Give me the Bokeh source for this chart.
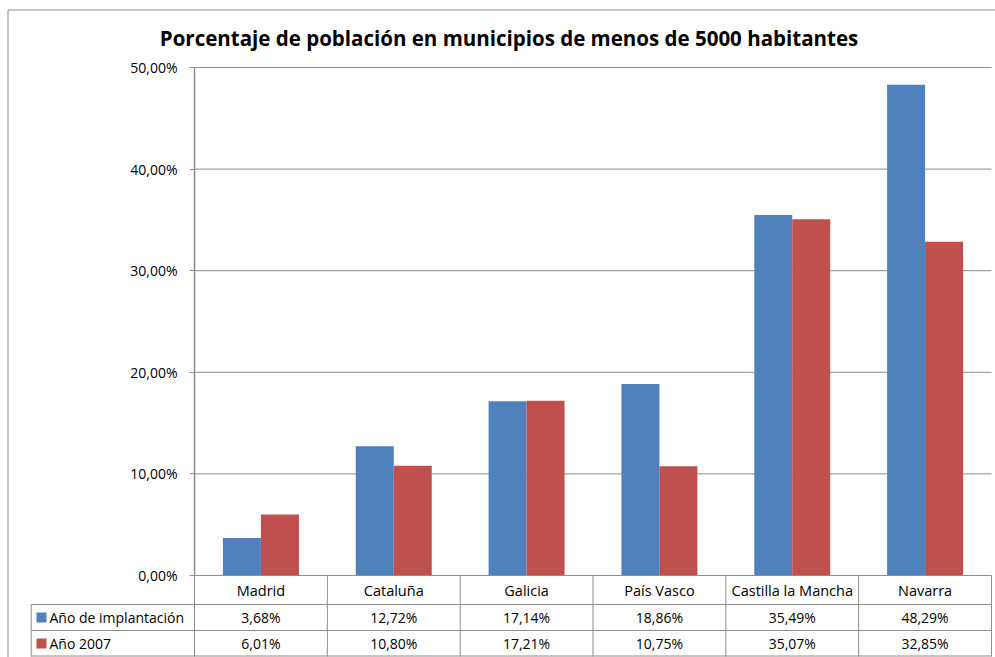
from bokeh.plotting import figure
from bokeh.models import (ColumnDataSource, LinearAxis, FixedTicker,
                          CustomJSTickFormatter, Range1d, Label)
from bokeh.core.properties import value
from bokeh.embed import file_html
from bokeh.resources import INLINE

# ---------------- data ----------------
title_text = "Porcentaje de población en municipios de menos de 5000 habitantes"
categories = ["Madrid", "Cataluña", "Galicia", "País Vasco",
              "Castilla la Mancha", "Navarra"]
serie_implantacion = [3.68, 12.72, 17.14, 18.86, 35.49, 48.29]
serie_2007 = [6.01, 10.80, 17.21, 10.75, 35.07, 32.85]
series_names = ["Año de implantación", "Año 2007"]
series_colors = ["#4F81BD", "#C0504D"]
y_ticks = [0, 10, 20, 30, 40, 50]

# ---------------- layout (page pixels) ----------------
W, H = 995, 657
OX, OY = 0, 0
PLOT_L, PLOT_R = 194, 991
Y0_PX, YTOP_PX = 575, 67
ROW1_B, ROW2_B, ROW3_B = 604, 630, 656
LEG_L = 30.7
FONT = "Open Sans"
FS = "14px"
GRAY = "#8c8c8c"

ncat = len(categories)
cat_px = (PLOT_R - PLOT_L) / ncat
ppu = (Y0_PX - YTOP_PX) / y_ticks[-1]


def dx(px):
    return (px - PLOT_L) / cat_px


def dy(py):
    return (Y0_PX - py) / ppu


def fmt(v):
    return f"{v:.2f}".replace(".", ",") + "%"


p = figure(width=W, height=H,
           x_range=Range1d(dx(OX), dx(OX + W)),
           y_range=Range1d(dy(OY + H), dy(OY)),
           output_backend="svg", toolbar_location=None,
           x_axis_type=None, y_axis_type=None, min_border=0)
p.outline_line_color = None
p.background_fill_color = "white"
p.border_fill_color = "white"

# outer chart border (left + top)
p.segment(x0=[dx(7.5), dx(7.5)], x1=[dx(7.5), dx(OX + W)],
          y0=[dy(OY + H), dy(9.5)], y1=[dy(9.5), dy(9.5)],
          line_color=GRAY, line_width=1)

# horizontal gridlines
p.segment(x0=0, x1=ncat, y0=y_ticks[1:], y1=y_ticks[1:],
          line_color=GRAY, line_width=1)

# bars
bw = 0.286
src = ColumnDataSource(dict(
    x1=[i + 0.5 - bw / 2 for i in range(ncat)],
    x2=[i + 0.5 + bw / 2 for i in range(ncat)],
    a=serie_implantacion, b=serie_2007))
p.vbar(x="x1", width=bw, top="a", bottom=0, source=src,
       fill_color=series_colors[0], line_color=None)
p.vbar(x="x2", width=bw, top="b", bottom=0, source=src,
       fill_color=series_colors[1], line_color=None)

# y axis
yaxis = LinearAxis(ticker=FixedTicker(ticks=y_ticks),
                   formatter=CustomJSTickFormatter(
                       code="return tick.toFixed(2).replace('.', ',') + '%';"),
                   fixed_location=0, bounds=(y_ticks[0], y_ticks[-1]))
yaxis.axis_line_color = GRAY
yaxis.axis_line_width = 1.5
yaxis.major_tick_line_color = GRAY
yaxis.major_tick_out = 5
yaxis.major_tick_in = 0
yaxis.minor_tick_line_color = None
yaxis.major_label_standoff = 12
yaxis.major_label_text_font = FONT
yaxis.major_label_text_font_size = FS
yaxis.major_label_text_color = "black"
p.add_layout(yaxis, "left")

# data table lines
yb = dy(ROW3_B)
p.segment(x0=[0], x1=[ncat], y0=[0], y1=[0], line_color=GRAY, line_width=1)
p.segment(x0=list(range(ncat + 1)), x1=list(range(ncat + 1)),
          y0=0, y1=yb, line_color=GRAY, line_width=1)
p.segment(x0=dx(LEG_L), x1=ncat,
          y0=[dy(ROW1_B), dy(ROW2_B), dy(ROW3_B - 0.5)],
          y1=[dy(ROW1_B), dy(ROW2_B), dy(ROW3_B - 0.5)],
          line_color=GRAY, line_width=1)
p.segment(x0=[dx(LEG_L)], x1=[dx(LEG_L)], y0=[dy(ROW1_B)], y1=[yb],
          line_color=GRAY, line_width=1)

# table text
r1 = dy((Y0_PX + ROW1_B) / 2)
r2 = dy((ROW1_B + ROW2_B) / 2)
r3 = dy((ROW2_B + ROW3_B) / 2)
xc = [i + 0.5 for i in range(ncat)]
p.text(x=xc, y=[r1] * ncat, text=categories, text_font=value(FONT),
       text_font_size="14.5px", text_align="center", text_baseline="middle",
       text_color="black")
p.text(x=xc, y=[r2] * ncat, text=[fmt(v) for v in serie_implantacion],
       text_font=value(FONT), text_font_size=FS, text_align="center",
       text_baseline="middle", text_color="black")
p.text(x=xc, y=[r3] * ncat, text=[fmt(v) for v in serie_2007],
       text_font=value(FONT), text_font_size=FS, text_align="center",
       text_baseline="middle", text_color="black")

# legend keys in the table
p.scatter(x=[dx(41), dx(41)], y=[r2, r3], marker="square", size=10,
          fill_color=series_colors, line_color=None)
p.text(x=[dx(49), dx(49)], y=[r2, r3], text=series_names,
       text_font=value(FONT), text_font_size=FS, text_align="left",
       text_baseline="middle", text_color="black")

# title
p.add_layout(Label(x=dx(508.5), y=dy(37), text=title_text,
                   text_font=FONT, text_font_size="20.5px",
                   text_font_style="bold", text_align="center",
                   text_baseline="middle", text_color="black"))

open("out.html", "w").write(file_html(p, INLINE))
